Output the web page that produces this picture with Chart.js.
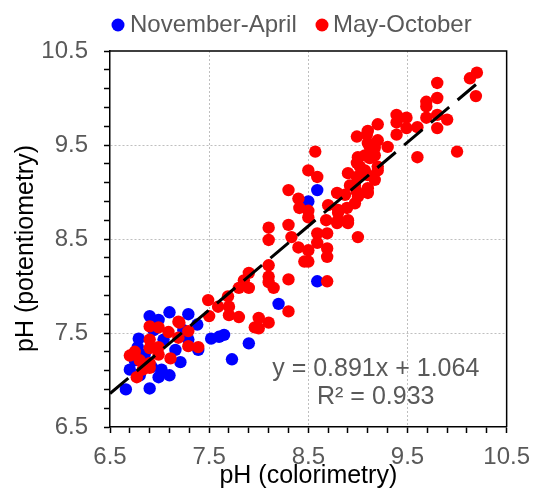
<!DOCTYPE html>
<html><head><meta charset="utf-8">
<script src="https://cdn.jsdelivr.net/npm/chart.js@4/dist/chart.umd.min.js"></script>
<style>html,body{margin:0;padding:0;background:#fff;}canvas{display:block;}</style>
</head><body>
<canvas id="c" width="540" height="491"></canvas>
<script>
// ---- data ----
const seriesNames = ['November-April', 'May-October'];
const seriesColors = ['#0000FF', '#FF0000'];

const novAprX = [6.66,6.90,6.70,6.99,7.10,6.90,7.10,7.29,6.99,6.79,6.78,7.21,7.39,7.38,7.52,7.60,7.65,7.73,7.90,8.20,8.59,8.59,8.50,6.92,7.02,7.16,6.85,7.04,7.24,6.75,7.29,6.80,6.94];
const novAprY = [6.90,6.91,7.11,7.03,7.05,7.68,7.72,7.70,7.64,7.44,7.35,7.19,7.32,7.59,7.44,7.46,7.48,7.22,7.39,7.81,8.05,9.02,8.90,7.14,7.11,7.32,7.27,7.43,7.53,7.21,7.43,7.05,7.53];

const mayOctX = [6.70,6.77,6.83,6.90,6.80,6.90,6.90,6.99,7.09,7.20,7.29,7.29,7.39,7.19,6.90,6.90,6.99,6.99,7.11,7.19,6.75,
  7.49,7.50,7.59,7.69,7.70,7.70,7.80,7.80,7.90,7.90,7.85,7.96,8.00,8.10,8.00,8.10,8.10,8.15,8.30,8.30,
  8.10,8.10,8.30,8.33,8.40,8.46,8.50,8.50,8.59,8.59,8.69,8.69,8.69,8.79,8.90,9.00,8.10,8.69,
  8.57,8.50,8.59,8.30,8.40,8.41,8.50,8.50,8.70,8.79,8.80,8.80,8.89,8.89,8.87,8.92,8.90,8.99,8.99,9.00,
  8.99,9.09,9.12,9.07,9.17,9.20,9.10,8.99,8.97,9.30,9.39,8.97,9.17,9.10,9.00,9.10,9.02,9.12,9.07,9.17,
  9.10,9.20,9.10,9.20,9.20,9.49,9.39,9.39,9.49,9.60,9.60,9.69,9.69,9.69,9.80,9.80,9.80,9.80,9.90,10.00,
  10.13,10.20,10.19,8.68,8.80,8.90];
const mayOctY = [7.26,7.03,7.11,7.13,7.21,7.18,7.57,7.56,7.51,7.61,7.52,7.36,7.35,7.45,7.43,7.34,7.35,7.27,7.23,7.62,7.30,
  7.85,7.68,7.78,7.89,7.78,7.69,7.67,7.98,7.98,8.14,8.06,7.56,7.55,7.61,7.66,8.22,8.10,7.98,8.07,7.73,
  8.49,8.62,8.65,8.52,8.41,8.26,8.38,8.26,8.56,8.46,8.56,8.40,8.31,8.67,8.67,8.52,8.04,8.05,
  9.43,9.23,9.16,9.02,8.93,8.83,8.80,8.73,8.86,8.99,8.81,8.70,8.68,8.83,8.97,9.07,9.20,9.16,9.31,9.37,
  9.59,9.61,9.48,9.23,9.47,9.27,9.04,9.00,8.88,9.48,9.61,9.07,9.13,8.99,8.95,9.18,9.27,9.36,9.39,9.39,
  9.52,9.72,9.65,9.55,9.23,9.79,9.82,9.74,9.68,9.69,9.37,9.79,9.96,9.91,10.16,10.00,9.82,9.68,9.77,9.43,
  10.21,10.27,10.02,8.70,8.78,8.70];

const trendSlope = 0.891;
const trendIntercept = 1.064;
const trendX = [6.5, 10.2];
const equationLines = ['y = 0.891x + 1.064', 'R\u00B2 = 0.933'];
const xTitle = 'pH (colorimetry)';
const yTitle = 'pH (potentiometry)';
const axisMin = 6.5, axisMax = 10.5, majorStep = 1, minorStep = 0.2;

// ---- helpers ----
const FONT = '"Liberation Sans", Arial, sans-serif';
const toPts = (xs, ys) => xs.map((x, i) => ({x, y: ys[i]}));
const isMajor = v => { const k = (v - axisMin) / majorStep; return Math.abs(k - Math.round(k)) < 1e-6; };
const isEdge = v => Math.abs(v - axisMin) < 1e-6 || Math.abs(v - axisMax) < 1e-6;
const gridColor = c => (c.tick && isMajor(c.tick.value) && !isEdge(c.tick.value)) ? '#BFBFBF' : 'rgba(0,0,0,0)';
const tickLabel = v => isMajor(v) ? Number(v).toFixed(1) : '';

const framePlugin = {
  id: 'frame',
  beforeDatasetsDraw(chart) {
    const a = chart.chartArea, ctx = chart.ctx;
    ctx.save();
    ctx.strokeStyle = '#000'; ctx.lineWidth = 1.5;
    ctx.beginPath();
    ctx.moveTo(a.left, a.top); ctx.lineTo(a.right, a.top); ctx.lineTo(a.right, a.bottom);
    ctx.stroke();
    ctx.restore();
  }
};

const labelPlugin = {
  id: 'labels',
  afterDraw(chart) {
    const ctx = chart.ctx, xs = chart.scales.x, ys = chart.scales.y;
    ctx.save();
    ctx.font = '25px ' + FONT;
    ctx.fillStyle = '#595959';
    ctx.textAlign = 'center';
    ctx.textBaseline = 'middle';
    ctx.fillText(equationLines[0], xs.getPixelForValue(9.18), ys.getPixelForValue(7.114));
    ctx.fillText(equationLines[1], xs.getPixelForValue(9.18), ys.getPixelForValue(6.813));
    // y axis title
    ctx.save();
    ctx.fillStyle = '#000';
    ctx.translate(26.5, 248.5);
    ctx.rotate(-Math.PI / 2);
    ctx.fillText(yTitle, 0, 0);
    ctx.restore();
    // legend
    ctx.font = '24px ' + FONT;
    const items = [{cx: 118, tx: 130}, {cx: 322, tx: 333}];
    chart.data.datasets.slice(0, 2).forEach((d, i) => {
      ctx.beginPath();
      ctx.fillStyle = d.backgroundColor;
      ctx.arc(items[i].cx, 25, 6.5, 0, Math.PI * 2);
      ctx.fill();
      ctx.fillStyle = '#595959';
      ctx.textAlign = 'left';
      ctx.fillText(d.label, items[i].tx, 25.5);
    });
    ctx.restore();
  }
};

const axisCommon = {
  type: 'linear', min: axisMin, max: axisMax,
  ticks: { stepSize: minorStep, autoSkip: false, maxRotation: 0, color: '#595959', font: {family: FONT, size: 24}, callback: tickLabel },
  grid: { color: gridColor, lineWidth: 1, tickLength: 6, tickColor: '#000', tickWidth: 1.5 },
  border: { color: '#000', width: 1.5, dash: [2, 2] }
};

new Chart(document.getElementById('c'), {
  type: 'scatter',
  data: {
    datasets: [
      { label: seriesNames[0], data: toPts(novAprX, novAprY), backgroundColor: seriesColors[0], borderWidth: 0, pointRadius: 6.2, pointHoverRadius: 6.2, order: 2 },
      { label: seriesNames[1], data: toPts(mayOctX, mayOctY), backgroundColor: seriesColors[1], borderWidth: 0, pointRadius: 6.2, pointHoverRadius: 6.2, order: 1 },
      { label: 'trend', data: trendX.map(x => ({x, y: trendSlope * x + trendIntercept})), showLine: true, borderColor: '#000', borderWidth: 3, borderDash: [24, 11], borderCapStyle: 'butt', pointRadius: 0, order: 0 }
    ]
  },
  options: {
    responsive: false, animation: false, devicePixelRatio: 1,
    layout: { padding: { top: 51, right: 25, left: 0, bottom: 0 } },
    plugins: { legend: { display: false }, tooltip: { enabled: false } },
    scales: {
      x: Object.assign({}, axisCommon, {
        position: 'bottom',
        afterFit: s => { s.height = 64; },
        ticks: Object.assign({}, axisCommon.ticks, { padding: 10 }),
        title: { display: true, text: xTitle, color: '#000', font: {family: FONT, size: 25}, padding: {top: 0, bottom: 0} }
      }),
      y: Object.assign({}, axisCommon, {
        position: 'left',
        afterFit: s => { s.width = 110; },
        ticks: Object.assign({}, axisCommon.ticks, { padding: 16 }),
        title: { display: false, text: yTitle }
      })
    }
  },
  plugins: [framePlugin, labelPlugin]
});
</script>
</body></html>
